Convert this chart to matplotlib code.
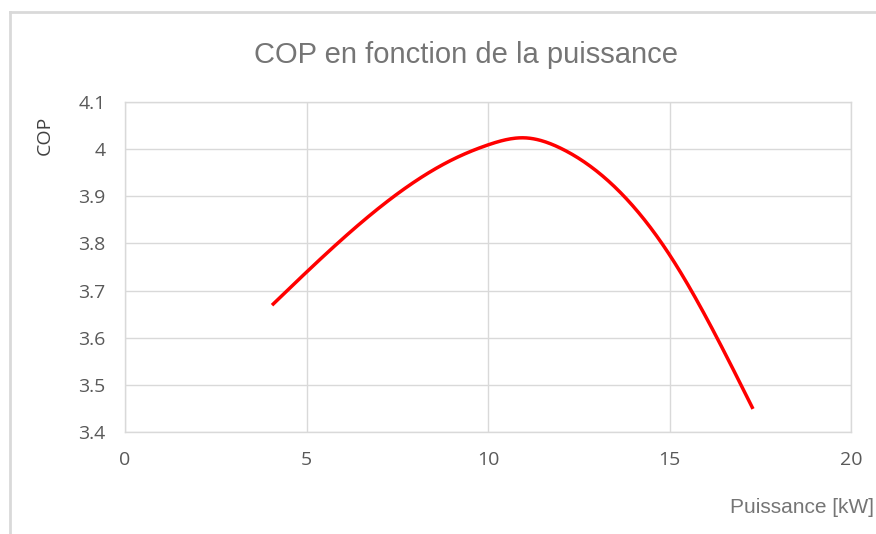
import numpy as np
import matplotlib
matplotlib.use("Agg")
import matplotlib.pyplot as plt
from matplotlib.lines import Line2D

# Data
puissance = [4.05, 7.5, 9.0, 10.0, 11.0, 12.0, 15.0, 17.3]
cop = [3.669, 3.905, 3.977, 4.009, 4.024, 4.002, 3.776, 3.449]
x_ticks = [0, 5, 10, 15, 20]
y_ticks = [3.4, 3.5, 3.6, 3.7, 3.8, 3.9, 4.0, 4.1]
y_tick_labels = ["3.4", "3.5", "3.6", "3.7", "3.8", "3.9", "4", "4.1"]


def smooth(xs, ys, n=400):
    """Smoothed line: natural cubic spline through the points."""
    x = np.asarray(xs, float)
    y = np.asarray(ys, float)
    m = len(x)
    h = np.diff(x)
    A = np.zeros((m, m))
    b = np.zeros(m)
    A[0, 0] = 1.0
    A[-1, -1] = 1.0
    for i in range(1, m - 1):
        A[i, i - 1] = h[i - 1]
        A[i, i] = 2 * (h[i - 1] + h[i])
        A[i, i + 1] = h[i]
        b[i] = 6 * ((y[i + 1] - y[i]) / h[i] - (y[i] - y[i - 1]) / h[i - 1])
    M = np.linalg.solve(A, b)
    xx = np.linspace(x[0], x[-1], n)
    idx = np.clip(np.searchsorted(x, xx) - 1, 0, m - 2)
    x0, x1 = x[idx], x[idx + 1]
    hh = x1 - x0
    a = (x1 - xx) / hh
    c = (xx - x0) / hh
    yy = (a * y[idx] + c * y[idx + 1]
          + ((a**3 - a) * M[idx] + (c**3 - c) * M[idx + 1]) * hh**2 / 6.0)
    return xx, yy


fig = plt.figure(figsize=(8.76, 5.34), dpi=100)
ax = fig.add_axes([125 / 876, 1 - 432 / 534, (851 - 125) / 876, (432 - 102) / 534])

sx, sy = smooth(puissance, cop)
ax.plot(sx, sy, color="#ff0000", lw=2.5, solid_capstyle="butt", zorder=3)

ax.set_xlim(0, 20)
ax.set_ylim(3.4, 4.1)
ax.set_xticks(x_ticks)
ax.set_yticks(y_ticks)
ax.set_yticklabels(y_tick_labels)
ax.grid(True, color="#d9d9d9", lw=1)
ax.set_axisbelow(True)
for sp in ax.spines.values():
    sp.set_color("#d9d9d9")
    sp.set_linewidth(1)
ax.tick_params(length=0, colors="#595959", labelsize=14)
ax.tick_params(axis="y", pad=14)
ax.tick_params(axis="x", pad=14)
for lab in ax.get_xticklabels() + ax.get_yticklabels():
    lab.set_fontfamily("Open Sans")

fig.text(466 / 876, 1 - 63 / 534, "COP en fonction de la puissance",
         ha="center", va="baseline", fontsize=21, color="#757575",
         fontfamily="Liberation Sans")
fig.text(874 / 876, 1 - 513 / 534, "Puissance [kW]", ha="right", va="baseline",
         fontsize=15, color="#757575", fontfamily="Liberation Sans")
fig.text(45 / 876, 1 - 135 / 534, "COP", rotation=90, ha="center", va="center",
         fontsize=14, color="#404040", fontfamily="Open Sans")

# outer chart border (left and top)
fig.add_artist(Line2D([9.5 / 876, 9.5 / 876], [0, 1 - 12 / 534], transform=fig.transFigure,
                      color="#d9d9d9", lw=2))
fig.add_artist(Line2D([9.5 / 876, 1], [1 - 12 / 534, 1 - 12 / 534], transform=fig.transFigure,
                      color="#d9d9d9", lw=2))

fig.savefig("out.png", dpi=100, facecolor="white")
